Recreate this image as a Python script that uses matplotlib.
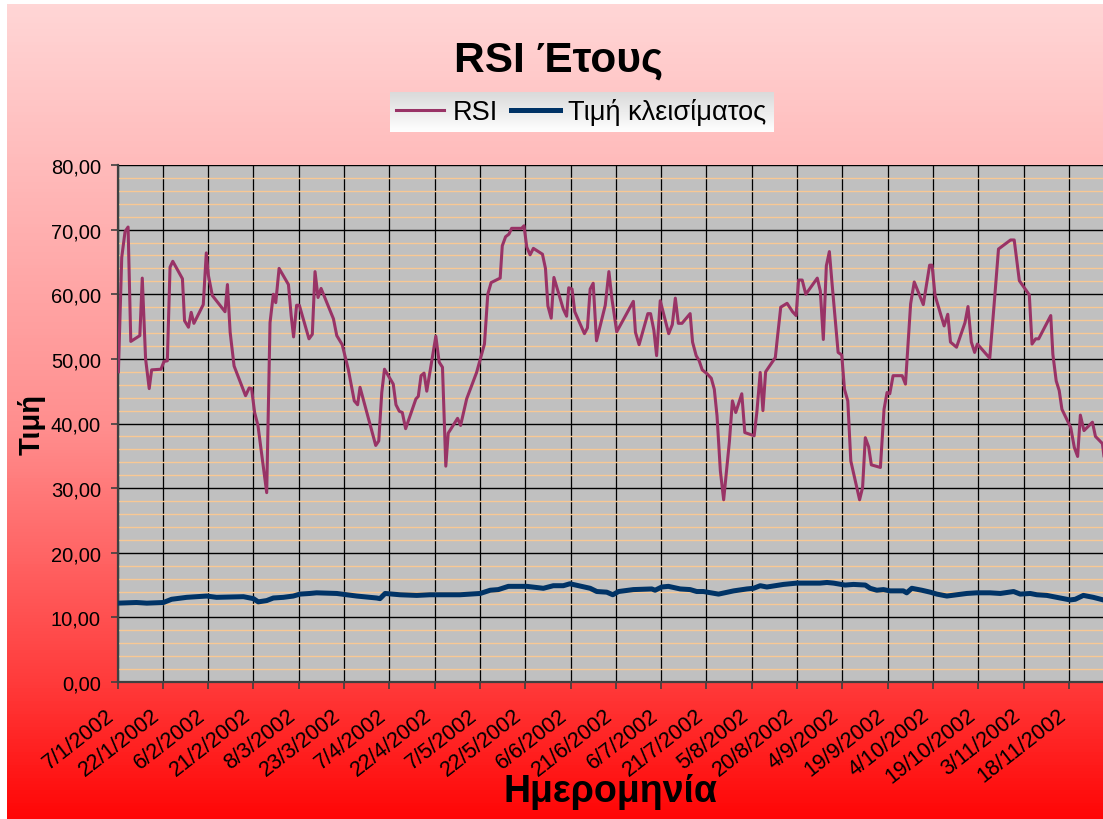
import numpy as np
import matplotlib
matplotlib.use("Agg")
import matplotlib.pyplot as plt
import matplotlib.transforms as mtransforms
from matplotlib.colors import LinearSegmentedColormap
from matplotlib.ticker import MultipleLocator, FuncFormatter

plt.rcParams["font.family"] = ["Liberation Sans", "DejaVu Sans"]

# RSI readings (x = days since 7/1/2002)
rsi_day = [0.3, 1.4, 2.5, 3.5, 4.4, 7.4, 8.2, 9.3, 10.5, 11.3,
           14.4, 15.4, 16.5, 17.4, 18.3, 21.5, 22.2, 23.5, 24.4, 25.3,
           28.4, 29.4, 30.1, 31.4, 35.6, 36.4, 37.3, 38.6, 42.4, 43.6,
           44.4, 45.4, 46.5, 49.4, 50.5, 51.6, 52.4, 53.5, 56.6, 57.5,
           58.3, 59.3, 60.2, 63.4, 64.5, 65.4, 66.4, 67.4, 71.5, 72.6,
           74.4, 76.4, 78.4, 79.5, 80.3, 85.5, 86.5, 87.5, 88.4, 91.3,
           92.2, 93.3, 94.3, 95.4, 98.8, 99.6, 100.5, 101.5, 102.4, 105.4,
           106.5, 107.6, 108.7, 109.5, 112.6, 113.6, 115.6, 118.9, 121.5, 122.6,
           123.7, 126.7, 127.4, 128.5, 129.6, 130.5, 133.8, 134.6, 135.5, 136.6,
           137.7, 140.7, 141.7, 142.5, 143.6, 144.5, 147.6, 148.7, 149.4, 150.5,
           151.4, 154.6, 155.6, 156.5, 157.5, 158.6, 161.5, 162.7, 163.7, 165.3,
           170.8, 171.5, 172.7, 175.6, 176.5, 177.6, 178.5, 179.7, 182.5, 183.7,
           184.7, 185.7, 186.9, 189.6, 190.4, 191.6, 192.6, 193.6, 195.2, 196.6,
           197.6, 198.5, 199.6, 200.7, 202.6, 203.6, 204.7, 206.7, 207.7, 210.8,
           211.7, 212.8, 213.7, 214.6, 217.8, 218.5, 219.6, 221.7, 223.5, 224.7,
           225.5, 226.7, 227.9, 231.7, 232.7, 233.7, 234.7, 235.7, 236.6, 238.6,
           239.8, 240.7, 241.8, 242.8, 245.7, 246.7, 247.6, 248.7, 249.6, 252.6,
           253.8, 254.8, 255.7, 256.8, 259.8, 260.9, 262.6, 263.8, 266.8, 268.9,
           269.7, 270.7, 273.7, 274.9, 275.8, 277.8, 280.6, 281.6, 282.7, 283.8,
           284.7, 288.8, 290.3, 291.7, 295.7, 296.9, 298.6, 301.9, 302.8, 304.0,
           305.0, 309.0, 309.7, 310.8, 311.8, 312.7, 315.6, 316.8, 317.9, 318.8,
           320.0, 322.8, 323.8, 326.1, 326.6]
rsi_val = [48.0, 65.7, 69.7, 70.4, 52.7, 53.6, 62.5, 50.0, 45.4, 48.3,
           48.4, 49.6, 49.7, 64.2, 65.1, 62.4, 55.9, 54.9, 57.2, 55.5,
           58.4, 66.4, 62.9, 59.8, 57.3, 61.5, 54.1, 48.9, 44.3, 45.5,
           45.4, 41.7, 39.7, 29.3, 55.6, 60.0, 58.7, 64.0, 61.5, 56.7,
           53.4, 58.3, 58.3, 53.1, 53.8, 63.5, 59.5, 60.9, 56.2, 53.6,
           52.2, 48.4, 43.5, 42.9, 45.6, 36.6, 37.3, 44.8, 48.4, 46.1,
           42.9, 41.9, 41.7, 39.2, 43.8, 44.2, 47.4, 47.8, 45.0, 53.5,
           49.5, 48.7, 33.4, 38.5, 40.8, 39.7, 43.8, 47.9, 52.3, 60.0,
           61.8, 62.5, 67.5, 68.9, 69.3, 70.2, 70.2, 70.6, 67.3, 66.1,
           67.1, 66.2, 64.0, 58.2, 56.3, 62.6, 57.7, 56.6, 61.0, 60.8,
           57.3, 53.9, 54.8, 60.8, 61.7, 52.8, 58.3, 63.5, 59.3, 54.2,
           58.9, 54.1, 52.2, 57.0, 57.0, 54.4, 50.5, 59.0, 53.9, 55.3,
           59.4, 55.5, 55.5, 57.0, 52.6, 50.5, 49.7, 48.3, 47.7, 47.0,
           45.3, 41.2, 32.7, 28.2, 37.2, 43.5, 41.7, 44.6, 38.6, 38.1,
           41.8, 47.9, 42.0, 48.0, 50.2, 53.3, 58.0, 58.6, 57.3, 56.7,
           62.2, 62.2, 60.0, 62.5, 60.5, 53.0, 64.4, 66.6, 61.6, 51.0,
           50.6, 45.3, 43.5, 34.2, 28.2, 30.1, 37.8, 36.4, 33.6, 33.2,
           42.2, 44.8, 44.6, 47.4, 47.4, 46.1, 58.5, 61.9, 58.4, 64.5,
           64.5, 59.8, 55.1, 56.9, 52.6, 51.8, 55.6, 58.1, 52.6, 51.0,
           52.3, 50.1, 58.7, 67.0, 68.4, 68.4, 62.1, 59.9, 52.3, 53.1,
           53.1, 56.7, 50.7, 46.6, 45.1, 42.2, 39.4, 36.3, 34.9, 41.3,
           38.9, 40.2, 38.0, 36.9, 35.0]

# closing price readings
close_day = [0, 6.3, 9.7, 15.2, 17.9, 22.9, 29.5, 32.8, 41.7, 45.0,
             46.6, 49.4, 51.6, 54.9, 58.2, 60.4, 63.7, 65.9, 72.6, 79.2,
             85.8, 86.9, 88.6, 93.5, 99.1, 103.5, 113.4, 120.1, 123.4, 126.1,
             129.4, 135.5, 141.0, 144.3, 147.6, 149.8, 156.5, 158.7, 162.0, 164.0,
             165.9, 170.8, 176.9, 178.0, 180.2, 182.4, 186.3, 189.6, 191.8, 194.0,
             199.0, 204.0, 208.4, 210.6, 212.8, 215.0, 220.5, 224.9, 232.6, 234.9,
             237.1, 240.9, 243.7, 247.6, 249.2, 251.4, 253.6, 255.8, 260.2, 261.3,
             263.0, 266.3, 269.1, 271.3, 274.6, 277.9, 281.2, 284.5, 288.9, 292.3,
             296.7, 298.9, 302.2, 304.4, 307.7, 311.0, 315.4, 317.1, 319.8, 323.1,
             326.4]
close_val = [12.2, 12.3, 12.2, 12.3, 12.8, 13.1, 13.3, 13.1, 13.2, 12.9,
             12.4, 12.6, 13.0, 13.1, 13.3, 13.6, 13.7, 13.8, 13.7, 13.3,
             13.0, 12.9, 13.7, 13.5, 13.4, 13.5, 13.5, 13.7, 14.2, 14.3,
             14.8, 14.8, 14.5, 14.9, 14.9, 15.2, 14.5, 14.0, 13.9, 13.5,
             14.0, 14.3, 14.4, 14.2, 14.7, 14.8, 14.4, 14.3, 14.0, 14.0,
             13.6, 14.1, 14.4, 14.5, 14.9, 14.7, 15.1, 15.3, 15.3, 15.4,
             15.3, 15.0, 15.1, 15.0, 14.5, 14.2, 14.3, 14.1, 14.1, 13.8,
             14.5, 14.2, 13.9, 13.6, 13.3, 13.5, 13.7, 13.8, 13.8, 13.7,
             14.0, 13.6, 13.7, 13.5, 13.4, 13.1, 12.7, 12.8, 13.4, 13.1,
             12.7]

tick_labels = ["7/1/2002", "22/1/2002", "6/2/2002", "21/2/2002", "8/3/2002",
               "23/3/2002", "7/4/2002", "22/4/2002", "7/5/2002", "22/5/2002",
               "6/6/2002", "21/6/2002", "6/7/2002", "21/7/2002", "5/8/2002",
               "20/8/2002", "4/9/2002", "19/9/2002", "4/10/2002", "19/10/2002",
               "3/11/2002", "18/11/2002"]
tick_step = 15  # days between date labels

W, H = 1103, 820
fig = plt.figure(figsize=(W / 100, H / 100), dpi=100)
fig.patch.set_facecolor("white")

# red gradient background (with a thin white margin top/left)
bg = fig.add_axes([7 / W, 0, 1 - 7 / W, 815 / H], zorder=-10)
bg_cmap = LinearSegmentedColormap.from_list(
    "bg", [(0.0, "#FFD6D6"), (0.52, "#FF8E8E"), (0.83, "#FF3C3C"), (1.0, "#FF0606")])
bg.imshow(np.linspace(0, 1, 256).reshape(-1, 1), aspect="auto", cmap=bg_cmap,
          extent=[0, 1, 1, 0])
bg.axis("off")

# legend box gradient
lg = fig.add_axes([390 / W, 1 - 133 / H, 384 / W, 40 / H], zorder=-5)
lg_cmap = LinearSegmentedColormap.from_list("lg", ["#DADADA", "#FFFFFF"])
lg.imshow(np.linspace(0, 1, 64).reshape(-1, 1), aspect="auto", cmap=lg_cmap,
          extent=[0, 1, 1, 0])
lg.axis("off")

ax = fig.add_axes([117.5 / W, 137 / H, (W - 117.5) / W, 517 / H])
ax.set_facecolor("#C0C0C0")

l_rsi, = ax.plot(rsi_day, rsi_val, color="#993366", lw=2.2, label="RSI", zorder=3)
l_close, = ax.plot(close_day, close_val, color="#003366", lw=3.6,
                   label="Τιμή κλεισίματος", zorder=3)

ax.set_xlim(0, 326.3)
ax.set_ylim(0, 80)

ax.yaxis.set_major_locator(MultipleLocator(10))
ax.yaxis.set_minor_locator(MultipleLocator(2))
ax.yaxis.set_major_formatter(FuncFormatter(lambda v, p: f"{v:.2f}".replace(".", ",")))
ax.tick_params(axis="y", which="major", labelsize=14.5, length=5, width=1.2,
               color="#404040", pad=7)
ax.tick_params(axis="y", which="minor", length=0)
ax.tick_params(axis="x", length=5, width=1.2, color="#404040", pad=11)

# date labels (offset applied after tick_params, which resets label transforms)
ax.set_xticks(np.arange(len(tick_labels)) * tick_step)
ax.set_xticklabels(tick_labels, rotation=38, ha="right", va="top",
                   rotation_mode="anchor", fontsize=15.5)
offset = mtransforms.ScaledTranslation(-12 / 100, 0, fig.dpi_scale_trans)
for lbl in ax.get_xticklabels():
    lbl.set_transform(lbl.get_transform() + offset)

ax.set_axisbelow(True)
ax.grid(axis="y", which="minor", color="#F8C894", lw=1.0)
ax.grid(axis="y", which="major", color="black", lw=1.0)
ax.grid(axis="x", which="major", color="black", lw=0.9)

for side in ["top", "right"]:
    ax.spines[side].set_visible(False)
for side in ["left", "bottom"]:
    ax.spines[side].set_color("#404040")
    ax.spines[side].set_linewidth(1.6)

# titles
fig.text(559 / W, 1 - 72 / H, "RSI Έτους", ha="center", va="baseline",
         fontsize=30.5, fontweight="bold")
fig.text(32 / W, 1 - 425 / H, "Τιμή", ha="center", va="center", rotation=90,
         fontsize=21, fontweight="bold")
fig.text(610 / W, 1 - 802 / H, "Ημερομηνία", ha="center", va="baseline",
         fontsize=27, fontweight="bold")

fig.legend(handles=[l_rsi, l_close], loc="center",
           bbox_to_anchor=(581 / W, 1 - 113 / H), ncol=2, frameon=False,
           fontsize=19.5, handlelength=1.8, handletextpad=0.3, columnspacing=0.5)

fig.savefig("out.png", dpi=100)
